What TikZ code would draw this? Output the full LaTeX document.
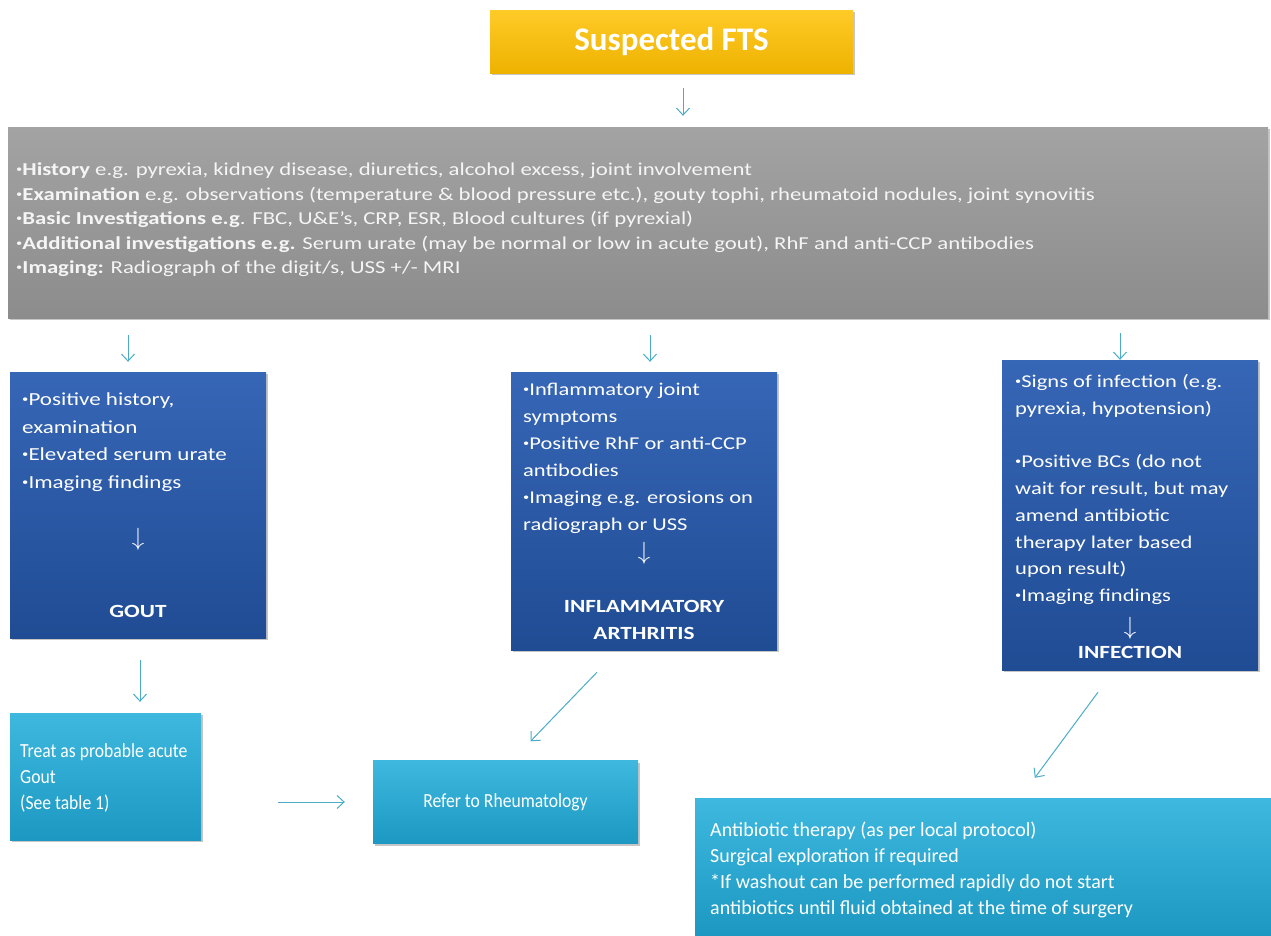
\documentclass[tikz,border=0pt]{standalone}
\usepackage{fontspec}
\setmainfont{Carlito}
\newfontfamily\widefont{Carlito}[FakeStretch=1.25]
\newfontfamily\narrowfont{Carlito}[FakeStretch=0.88]
\usetikzlibrary{arrows.meta, positioning, shadows, calc}

\definecolor{goldtop}{RGB}{255,203,40}
\definecolor{goldbot}{RGB}{238,178,0}
\definecolor{greytop}{RGB}{163,163,163}
\definecolor{greybot}{RGB}{140,140,140}
\definecolor{bluetop}{RGB}{54,102,182}
\definecolor{bluebot}{RGB}{32,76,148}
\definecolor{cyantop}{RGB}{62,184,222}
\definecolor{cyanbot}{RGB}{28,152,194}
\definecolor{flowteal}{RGB}{75,172,198}

\newcommand{\blt}{\raisebox{0.18em}{\scalebox{0.55}{•}}}
\newcommand{\fs}[2]{\fontsize{#1}{#2}\selectfont}

\begin{document}
\begin{tikzpicture}[x=1pt, y=-1pt,
  panel/.style={draw=none, inner sep=0pt, drop shadow={opacity=0.45, shadow xshift=2pt, shadow yshift=-2pt}},
  goldbox/.style={panel, top color=goldtop, bottom color=goldbot},
  greybox/.style={panel, top color=greytop, bottom color=greybot},
  bluebox/.style={panel, top color=bluetop, bottom color=bluebot},
  cyanbox/.style={panel, top color=cyantop, bottom color=cyanbot},
  listtext/.style={text=white, align=left, inner sep=0pt, anchor=north west},
  headtext/.style={text=white, align=center, inner sep=0pt, font=\widefont\fs{18.6}{27}\bfseries},
  downtext/.style={text=white, inner sep=0pt, font=\fs{26}{27}},
  flow/.style={draw=flowteal, line width=1pt, -{Straight Barb[length=7pt, width=13pt]}}]

  \useasboundingbox (0,0) rectangle (1271,935);

  % top of the chart
  \node[goldbox, minimum width=363pt, minimum height=63pt, text=white, font=\fs{33}{36}\bfseries] (fts) at (671.5,41.5) {Suspected FTS};
  \node[greybox, minimum width=1260pt, minimum height=191pt] (hist) at (638,222.5) {};
  \node[listtext, font=\widefont\fs{18.2}{24.5}, text=white!96!black] (histlist) at (16,163) {%
    \blt\textbf{History} e.g. pyrexia, kidney disease, diuretics, alcohol excess, joint involvement\\
    \blt\textbf{Examination} e.g. observations (temperature \& blood pressure etc.), gouty tophi,  rheumatoid  nodules, joint synovitis\\
    \blt\textbf{Basic Investigations e.g}. FBC, U\&E’s, CRP, ESR, Blood cultures (if pyrexial)\\
    \blt\textbf{Additional investigations e.g.} Serum urate (may be normal or low in acute gout), RhF and anti-CCP antibodies\\
    \blt\textbf{Imaging:} Radiograph of the digit/s, USS +/- MRI};

  % three columns
  \node[bluebox, minimum width=256pt, minimum height=266pt] (gout) at (138,505) {};
  \node[listtext, font=\widefont\fs{18.4}{27.5}] (goutlist) at (22,393) {%
    \blt Positive history,\\examination\\\blt Elevated serum urate\\\blt Imaging findings};
  \node[downtext] (goutarr) at (138,539) {$\downarrow$};
  \node[headtext] (gouthead) at (138,611) {GOUT};

  \node[bluebox, minimum width=266pt, minimum height=278pt] (infl) at (644,511) {};
  \node[listtext, font=\widefont\fs{18}{27}] (infllist) at (523,383) {%
    \blt Inflammatory  joint\\symptoms\\\blt Positive RhF or anti-CCP\\antibodies\\\blt Imaging e.g. erosions on\\radiograph or USS};
  \node[downtext] (inflarr) at (644,553) {$\downarrow$};
  \node[headtext] (inflhead) at (644,620) {INFLAMMATORY\\ARTHRITIS};

  \node[bluebox, minimum width=256pt, minimum height=310pt] (infe) at (1130,515) {};
  \node[listtext, font=\widefont\fs{18}{26.8}] (infelist) at (1015,374) {%
    \blt Signs of infection (e.g.\\pyrexia, hypotension)\\[26.8pt]
    \blt Positive BCs (do not\\wait for result, but may\\amend antibiotic\\therapy later based\\upon result)\\\blt Imaging findings};
  \node[downtext] (infearr) at (1130,628) {$\downarrow$};
  \node[headtext] (infehead) at (1130,652) {INFECTION};

  % outcomes
  \node[cyanbox, minimum width=191pt, minimum height=127pt] (treat) at (105.5,776.5) {};
  \node[listtext, font=\narrowfont\fs{20}{26}] (treatlist) at (20,743) {%
    Treat as probable acute\\Gout\\(See table 1)};
  \node[cyanbox, minimum width=265pt, minimum height=83pt, text=white, font=\narrowfont\fs{20}{25}] (refer) at (505.5,802) {Refer to Rheumatology};
  \node[cyanbox, minimum width=576pt, minimum height=137pt] (abx) at (983,866.5) {};
  \node[listtext, font=\fs{20}{26}] (abxlist) at (710,822) {%
    Antibiotic  therapy (as per local protocol)\\
    Surgical exploration if required\\
    *If washout  can be performed  rapidly do  not  start\\
    antibiotics until fluid obtained at the time of surgery};

  % connectors
  \coordinate (c1) at (683,0);
  \coordinate (c2) at (128,0);
  \coordinate (c3) at (650,0);
  \coordinate (c4) at (1120,0);
  \coordinate (c5) at (140,0);
  \draw[flow, shorten <=15pt, shorten >=11pt] (fts.south -| c1) -- (hist.north -| c1);
  \draw[flow, shorten <=17pt, shorten >=10pt] (hist.south -| c2) -- (gout.north -| c2);
  \draw[flow, shorten <=17pt, shorten >=10pt] (hist.south -| c3) -- (infl.north -| c3);
  \draw[flow, shorten <=15pt, shorten >=0pt] (hist.south -| c4) -- (infe.north -| c4);
  \draw[flow, shorten <=22pt, shorten >=11pt] (gout.south -| c5) -- (treat.north -| c5);
  \draw[flow, shorten <=77pt, shorten >=28pt] (treat.east |- refer) -- (refer.west);
  \coordinate (d1) at ($(infl.south)+(-47,22)$);
  \coordinate (d2) at ($(refer.north)+(25,-19)$);
  \draw[flow] (d1) -- (d2);
  \coordinate (d3) at ($(infe.south)+(-32,22)$);
  \coordinate (d4) at ($(abx.north west)+(340,-20)$);
  \draw[flow] (d3) -- (d4);
\end{tikzpicture}
\end{document}
